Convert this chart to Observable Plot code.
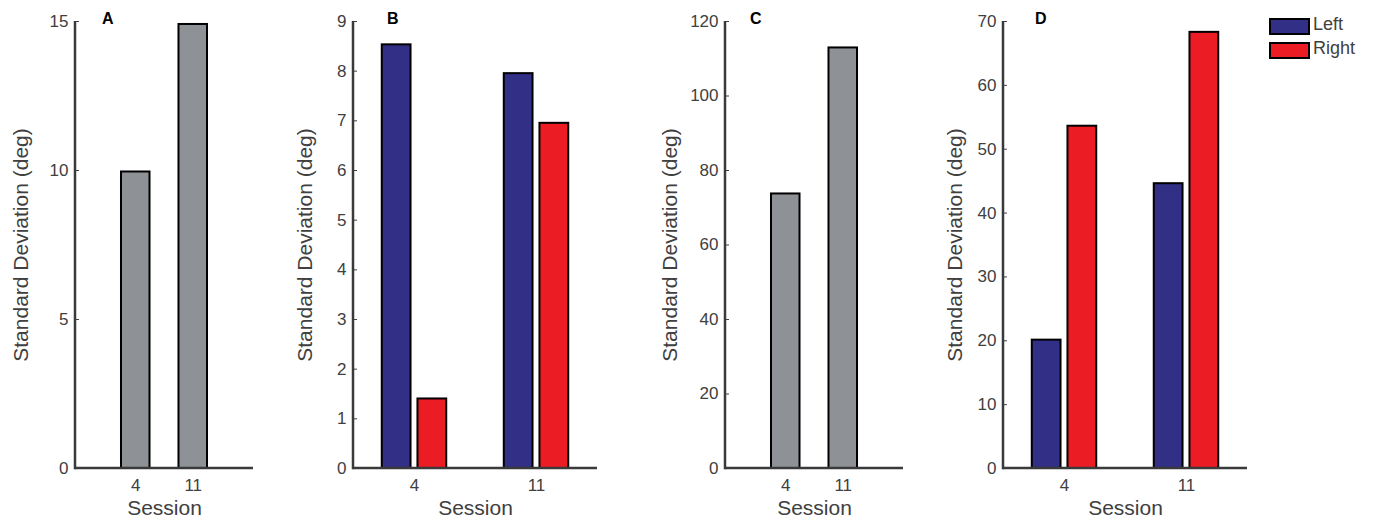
<!DOCTYPE html>
<html><head><meta charset="utf-8">
<script src="https://cdn.jsdelivr.net/npm/d3@7"></script>
<script src="https://cdn.jsdelivr.net/npm/@observablehq/plot@0.6"></script>
<style>
body{margin:0;background:#fff;}
#wrap{position:relative;width:1373px;height:521px;font-family:"Liberation Sans",Arial,Helvetica,sans-serif;overflow:hidden;background:#fff;}
.panel{position:absolute;top:0;}
.letter{position:absolute;font-weight:bold;font-size:16px;line-height:16px;color:#000;}
.lg-box{position:absolute;width:41px;height:17px;border:2px solid #000;box-sizing:border-box;}
.lg-text{position:absolute;font-size:18px;line-height:18px;color:#404040;}
svg g[aria-label$="axis label"]{font-size:21px;}
</style></head><body><div id="wrap"></div>
<script>
// ---- data ----
const sessions = ["4", "11"];
const sides = ["Left", "Right"];
const panelLetters = ["A", "B", "C", "D"];
const aValues = [9.95, 14.9];
const bLeft = [8.53, 7.95];
const bRight = [1.40, 6.95];
const cValues = [73.7, 112.9];
const dLeft = [20.1, 44.6];
const dRight = [53.6, 68.3];
const aTicks = [0, 5, 10, 15];
const bTicks = [0, 1, 2, 3, 4, 5, 6, 7, 8, 9];
const cTicks = [0, 20, 40, 60, 80, 100, 120];
const dTicks = [0, 10, 20, 30, 40, 50, 60, 70];
const yLabel = "Standard Deviation (deg)";
const xLabel = "Session";

// ---- style ----
const FONT = '"Liberation Sans", Arial, Helvetica, sans-serif';
const GRAY = "#8e9196", BLUE = "#322f86", RED = "#ec1c24", AXIS = "#3a3a3a", TEXT = "#404040";
const H = 521, MT = 21, MB = 53, ML = 75, MR = 5;

const wrap = document.getElementById("wrap");

function addAxisLines(chart, width, yMax) {
  const y = chart.scale("y");
  const svg = d3.select(chart);
  const y0 = y.apply(0), yT = y.apply(yMax);
  svg.append("line").attr("x1", ML).attr("x2", width - MR).attr("y1", y0).attr("y2", y0)
    .attr("stroke", AXIS).attr("stroke-width", 2.5);
  svg.append("line").attr("x1", ML).attr("x2", ML).attr("y1", y0 + 1.25).attr("y2", yT)
    .attr("stroke", AXIS).attr("stroke-width", 2.5);
}

function place(chart, left) {
  const d = document.createElement("div");
  d.className = "panel";
  d.style.left = left + "px";
  d.appendChild(chart);
  wrap.appendChild(d);
}

function yOpts(yMax, ticks, labelOffset) {
  return {domain: [0, yMax], ticks, tickFormat: d => String(d), tickSize: -4, tickPadding: 11,
    label: yLabel, labelAnchor: "center", labelOffset, labelArrow: "none"};
}

function singlePanel(values, ticks, yMax, labelOffset, left) {
  const width = ML + 178 + MR;
  const data = sessions.map((s, i) => ({session: s, value: values[i]}));
  const chart = Plot.plot({
    width, height: H, marginLeft: ML, marginRight: MR, marginTop: MT, marginBottom: MB,
    style: {fontFamily: FONT, fontSize: "17px", color: TEXT, background: "transparent", overflow: "visible"},
    x: {domain: sessions, paddingInner: 0.504, paddingOuter: 0.8, round: false, tickSize: 0, tickPadding: 10,
        label: xLabel, labelAnchor: "center", labelOffset: 46, labelArrow: "none"},
    y: yOpts(yMax, ticks, labelOffset),
    marks: [
      Plot.barY(data, {x: "session", y: "value", fill: GRAY, stroke: "#000", strokeWidth: 2})
    ]
  });
  addAxisLines(chart, width, yMax);
  place(chart, left);
}

function groupedPanel(left, right, ticks, yMax, labelOffset, leftPos) {
  const width = ML + 244 + MR;
  const data = sessions.flatMap((s, i) => [
    {session: s, side: sides[0], value: left[i]},
    {session: s, side: sides[1], value: right[i]}
  ]);
  const chart = Plot.plot({
    width, height: H, marginLeft: ML, marginRight: MR, marginTop: MT, marginBottom: MB,
    style: {fontFamily: FONT, fontSize: "17px", color: TEXT, background: "transparent", overflow: "visible"},
    facet: {data, x: "session"},
    fx: {domain: sessions, paddingInner: 0, paddingOuter: 0, round: false, axis: "bottom", tickSize: 0, tickPadding: 10,
         label: xLabel, labelAnchor: "center", labelOffset: 46, labelArrow: "none"},
    x: {domain: sides, paddingInner: 0.194, paddingOuter: 0.806, round: false, axis: null},
    y: yOpts(yMax, ticks, labelOffset),
    color: {domain: sides, range: [BLUE, RED]},
    marks: [
      Plot.barY(data, {x: "side", y: "value", fill: "side", stroke: "#000", strokeWidth: 2})
    ]
  });
  addAxisLines(chart, width, yMax);
  place(chart, leftPos);
}

singlePanel(aValues, aTicks, 15, 62, 0);
groupedPanel(bLeft, bRight, bTicks, 9, 56, 278);
singlePanel(cValues, cTicks, 120, 63, 650);
groupedPanel(dLeft, dRight, dTicks, 70, 56, 928);

// panel letters
const letterPos = [[102, 11], [387, 11], [750, 11], [1035, 11]];
panelLetters.forEach((t, i) => {
  const d = document.createElement("div");
  d.className = "letter";
  d.textContent = t;
  d.style.left = letterPos[i][0] + "px";
  d.style.top = letterPos[i][1] + "px";
  wrap.appendChild(d);
});

// legend
const legendColors = [BLUE, RED];
sides.forEach((s, i) => {
  const b = document.createElement("div");
  b.className = "lg-box";
  b.style.left = "1269px";
  b.style.top = (18 + i * 24) + "px";
  b.style.background = legendColors[i];
  wrap.appendChild(b);
  const t = document.createElement("div");
  t.className = "lg-text";
  t.textContent = s;
  t.style.left = "1313px";
  t.style.top = (15 + i * 24) + "px";
  wrap.appendChild(t);
});
</script></body></html>
